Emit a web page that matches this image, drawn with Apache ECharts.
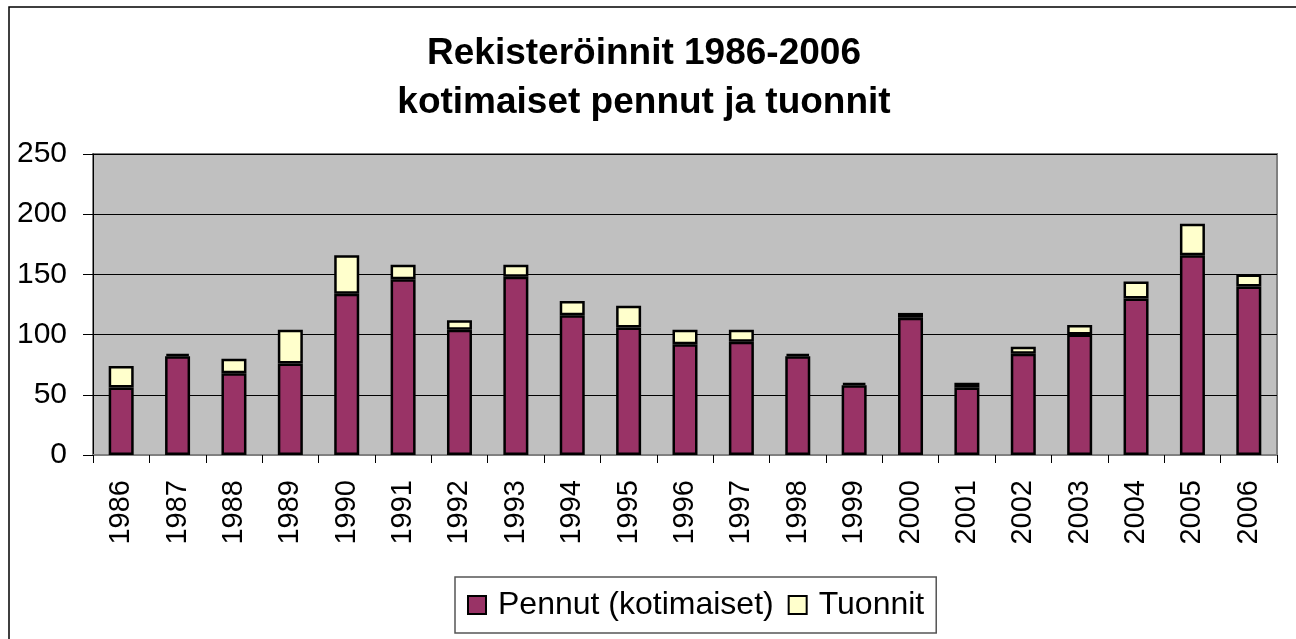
<!DOCTYPE html>
<html lang="fi">

<head>
    <meta charset="UTF-8">
    <title>Rekisteröinnit 1986-2006</title>
    <script src="https://cdn.jsdelivr.net/npm/echarts@6/dist/echarts.min.js"></script>
    <style>
        body { margin: 0; background: #fff; }
        #main { width: 1296px; height: 639px; }
    </style>
</head>

<body>
    <div id="main"></div>
    <script>
        var font = 'Arial, "Liberation Sans", sans-serif'

        // vuodet
        var years = ['1986', '1987', '1988', '1989', '1990', '1991', '1992', '1993', '1994', '1995', '1996',
            '1997', '1998', '1999', '2000', '2001', '2002', '2003', '2004', '2005', '2006']
        // kotimaiset pennut
        var pennut = [56, 82, 68, 76, 134, 146, 104, 148, 116, 106, 92, 94, 82, 58, 114, 56, 84, 100, 130, 166, 140]
        // tuonnit
        var tuonnit = [18, 2, 12, 28, 32, 12, 8, 10, 12, 18, 12, 10, 2, 2, 4, 4, 6, 8, 14, 26, 10]

        var chart = echarts.init(document.getElementById('main'))
        var option = {
            animation: false,
            backgroundColor: '#fff',
            graphic: [{
                type: 'rect',
                shape: { x: 9, y: 7, width: 1300, height: 640 },
                style: { fill: 'none', stroke: '#000', lineWidth: 1.5 },
                silent: true
            }],
            title: {
                text: 'Rekisteröinnit 1986-2006\nkotimaiset pennut ja tuonnit',
                left: 639,
                top: 24,
                textAlign: 'center',
                textStyle: {
                    fontFamily: font,
                    fontSize: 37,
                    fontWeight: 'bold',
                    lineHeight: 49,
                    color: '#000'
                }
            },
            legend: {
                left: 455,
                top: 577,
                padding: [12, 12, 12, 12],
                borderColor: '#555',
                borderWidth: 1.5,
                icon: 'rect',
                itemWidth: 18,
                itemHeight: 18,
                itemGap: 14,
                textStyle: {
                    fontFamily: font,
                    fontSize: 32,
                    lineHeight: 32,
                    color: '#000',
                    padding: [0, 0, 0, 7]
                },
                data: ['Pennut (kotimaiset)', 'Tuonnit']
            },
            grid: {
                left: 93,
                top: 154,
                right: 19,
                bottom: 184,
                show: true,
                backgroundColor: '#C0C0C0',
                borderColor: '#808080',
                borderWidth: 2
            },
            xAxis: {
                type: 'category',
                data: years,
                axisLine: { lineStyle: { color: '#808080', width: 2 } },
                axisTick: { show: true, length: 8, lineStyle: { color: '#000' } },
                axisLabel: {
                    rotate: 90,
                    margin: 25,
                    fontFamily: font,
                    fontSize: 29,
                    color: '#000'
                }
            },
            yAxis: {
                type: 'value',
                min: 0,
                max: 250,
                interval: 50,
                axisLine: { show: true, lineStyle: { color: '#000', width: 1 } },
                axisTick: { show: true, length: 10, lineStyle: { color: '#000' } },
                axisLabel: {
                    margin: 26,
                    fontFamily: font,
                    fontSize: 30,
                    color: '#000'
                },
                splitLine: { lineStyle: { color: '#000', width: 1 } }
            },
            series: [{
                name: 'Pennut (kotimaiset)',
                type: 'bar',
                stack: 'yht',
                barWidth: 25,
                data: pennut,
                itemStyle: { color: '#993366', borderColor: '#000', borderWidth: 2.5 }
            }, {
                name: 'Tuonnit',
                type: 'bar',
                stack: 'yht',
                barWidth: 25,
                data: tuonnit,
                itemStyle: { color: '#FFFFCC', borderColor: '#000', borderWidth: 2.5 }
            }]
        }
        chart.setOption(option)
    </script>
</body>

</html>
